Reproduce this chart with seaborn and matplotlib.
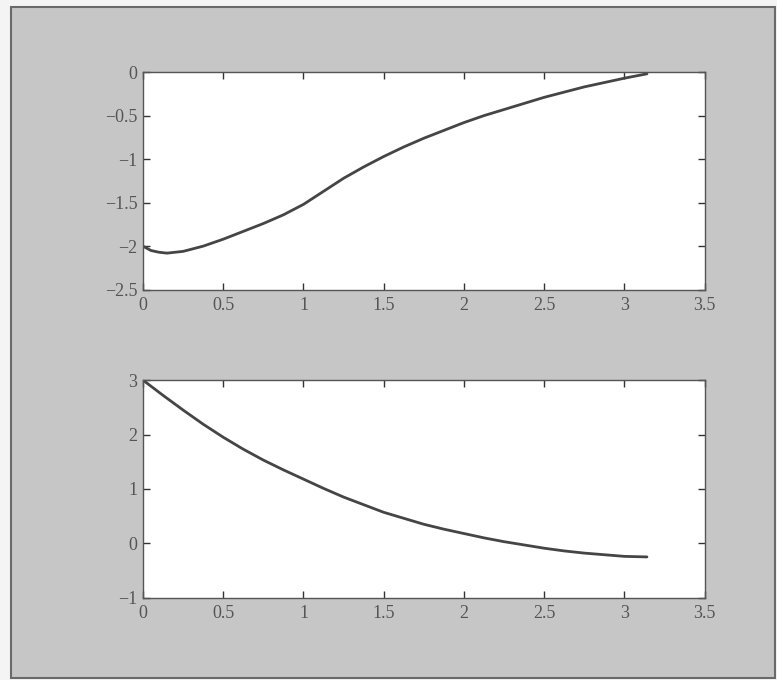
import numpy as np
import pandas as pd
import seaborn as sns
import matplotlib.pyplot as plt
from matplotlib.patches import Rectangle

# values
x_top = [0, 0.05, 0.1, 0.15, 0.25, 0.375, 0.5, 0.625, 0.75, 0.875, 1.0, 1.125, 1.25, 1.375,
         1.5, 1.625, 1.75, 1.875, 2.0, 2.125, 2.25, 2.375, 2.5, 2.625, 2.75, 2.875, 3.0, 3.14]
y_top = [-2.0, -2.05, -2.07, -2.08, -2.06, -2.0, -1.92, -1.83, -1.74, -1.64, -1.52, -1.37, -1.22, -1.09,
         -0.97, -0.86, -0.76, -0.67, -0.58, -0.50, -0.43, -0.36, -0.29, -0.23, -0.17, -0.12, -0.07, -0.02]

x_bot = [0, 0.125, 0.25, 0.375, 0.5, 0.625, 0.75, 0.875, 1.0, 1.125, 1.25, 1.375, 1.5, 1.625,
         1.75, 1.875, 2.0, 2.125, 2.25, 2.375, 2.5, 2.625, 2.75, 2.875, 3.0, 3.14]
y_bot = [3.0, 2.72, 2.45, 2.19, 1.95, 1.73, 1.53, 1.35, 1.18, 1.01, 0.85, 0.71, 0.57, 0.46,
         0.35, 0.26, 0.18, 0.10, 0.03, -0.03, -0.09, -0.14, -0.18, -0.21, -0.24, -0.25]

x_ticks = [0, 0.5, 1, 1.5, 2, 2.5, 3, 3.5]
x_labels = ['0', '0.5', '1', '1.5', '2', '2.5', '3', '3.5']
top_yticks = [-2.5, -2, -1.5, -1, -0.5, 0]
top_ylabels = ['\u22122.5', '\u22122', '\u22121.5', '\u22121', '\u22120.5', '0']
bot_yticks = [-1, 0, 1, 2, 3]
bot_ylabels = ['\u22121', '0', '1', '2', '3']

sns.set_style('ticks')
plt.rcParams['font.family'] = ['Liberation Serif', 'DejaVu Serif']

fig = plt.figure(figsize=(7.77, 6.8), dpi=100, facecolor='#f4f4f4')
# scanned page: gray panel with a dark edge
fig.patches.append(Rectangle((11 / 777, 2 / 680), 764 / 777, 671 / 680, transform=fig.transFigure,
                             facecolor='#c6c6c6', edgecolor='#6a6a6a', linewidth=1.5, zorder=-10))

ax1 = fig.add_axes([0.184, 0.574, 0.723, 0.320])
ax2 = fig.add_axes([0.184, 0.121, 0.723, 0.320])

panels = [
    (ax1, x_top, y_top, (-2.5, 0), top_yticks, top_ylabels),
    (ax2, x_bot, y_bot, (-1, 3), bot_yticks, bot_ylabels),
]
for ax, xs, ys, ylim, yt, yl in panels:
    df = pd.DataFrame({'x': xs, 'y': ys})
    sns.lineplot(data=df, x='x', y='y', ax=ax, color='#454545', linewidth=2.0)
    ax.set_xlim(0, 3.5)
    ax.set_ylim(*ylim)
    ax.set_xticks(x_ticks)
    ax.set_xticklabels(x_labels)
    ax.set_yticks(yt)
    ax.set_yticklabels(yl)
    ax.set_xlabel('')
    ax.set_ylabel('')
    ax.set_facecolor('white')
    for s in ax.spines.values():
        s.set_visible(True)
        s.set_color('#555555')
        s.set_linewidth(1.0)
    ax.tick_params(direction='in', top=True, right=True, length=5, width=1,
                   colors='#333333', labelsize=13, labelcolor='#555555')
    ax.tick_params(axis='x', pad=5)
    ax.tick_params(axis='y', pad=4)

fig.savefig('out.png', dpi=100, facecolor=fig.get_facecolor())
